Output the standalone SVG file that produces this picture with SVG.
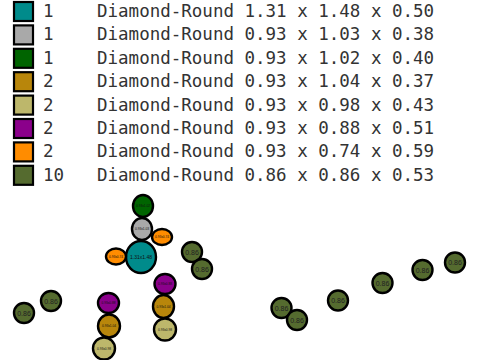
<svg xmlns="http://www.w3.org/2000/svg" width="480" height="360" viewBox="0 0 480 360">
<style>
.lg{stroke:#000;stroke-width:2.2}
.lt{font-family:"DejaVu Sans Mono","Liberation Mono",monospace;font-size:17.5px;fill:#333}
.n{stroke:#000;stroke-width:2.4}
.s{font-family:"Liberation Sans",Arial,sans-serif;font-size:3.2px;fill:#111;text-anchor:middle}
.o{font-family:"Liberation Sans",Arial,sans-serif;font-size:7px;fill:#222;text-anchor:middle}
.teal{fill:#008B8B}.gray{fill:#A9A9A9}.green{fill:#006400}.gold{fill:#B8860B}.khaki{fill:#BDB76B}.purple{fill:#8B008B}.orange{fill:#FF8C00}.olive{fill:#556B2F}
</style>
<rect width="480" height="360" fill="#fff"/>
<g id="legend">
<rect class="lg teal" x="14" y="2" width="19" height="19"/>
<text class="lt" x="43" y="17">1</text><text class="lt" x="97" y="17">Diamond-Round 1.31 x 1.48 x 0.50</text>
<rect class="lg gray" x="14" y="25.4" width="19" height="19"/>
<text class="lt" x="43" y="40.4">1</text><text class="lt" x="97" y="40.4">Diamond-Round 0.93 x 1.03 x 0.38</text>
<rect class="lg green" x="14" y="48.8" width="19" height="19"/>
<text class="lt" x="43" y="63.8">1</text><text class="lt" x="97" y="63.8">Diamond-Round 0.93 x 1.02 x 0.40</text>
<rect class="lg gold" x="14" y="72.2" width="19" height="19"/>
<text class="lt" x="43" y="87.2">2</text><text class="lt" x="97" y="87.2">Diamond-Round 0.93 x 1.04 x 0.37</text>
<rect class="lg khaki" x="14" y="95.6" width="19" height="19"/>
<text class="lt" x="43" y="110.6">2</text><text class="lt" x="97" y="110.6">Diamond-Round 0.93 x 0.98 x 0.43</text>
<rect class="lg purple" x="14" y="119" width="19" height="19"/>
<text class="lt" x="43" y="134">2</text><text class="lt" x="97" y="134">Diamond-Round 0.93 x 0.88 x 0.51</text>
<rect class="lg orange" x="14" y="142.4" width="19" height="19"/>
<text class="lt" x="43" y="157.4">2</text><text class="lt" x="97" y="157.4">Diamond-Round 0.93 x 0.74 x 0.59</text>
<rect class="lg olive" x="14" y="165.8" width="19" height="19"/>
<text class="lt" x="43" y="180.8">10</text><text class="lt" x="97" y="180.8">Diamond-Round 0.86 x 0.86 x 0.53</text>
</g>
<g id="connectors"></g>
<g id="n-green"><ellipse class="n green" cx="143" cy="206" rx="10" ry="11"/><text class="s" x="143" y="207">0.93x1.02</text></g>
<g id="n-gray"><ellipse class="n gray" cx="142" cy="229" rx="10" ry="11"/><text class="s" x="142" y="230">0.93x1.03</text></g>
<g id="n-orange1"><ellipse class="n orange" cx="162" cy="237" rx="10" ry="8"/><text class="s" x="162" y="238">0.93x0.74</text></g>
<g id="n-teal"><ellipse class="n teal" cx="141" cy="257" rx="15" ry="16"/><text class="s" style="font-size:5px" x="141" y="259">1.31x1.48</text></g>
<g id="n-orange2"><ellipse class="n orange" cx="116" cy="256.5" rx="10" ry="8"/><text class="s" x="116" y="257.5">0.93x0.74</text></g>
<g id="n-purple1"><ellipse class="n purple" cx="165" cy="284" rx="10.5" ry="10"/><text class="s" x="165" y="285">0.93x0.88</text></g>
<g id="n-gold1"><ellipse class="n gold" cx="163.5" cy="306.5" rx="10.5" ry="11.5"/><text class="s" x="163.5" y="307.5">0.93x1.04</text></g>
<g id="n-khaki1"><ellipse class="n khaki" cx="165" cy="329.5" rx="11" ry="11"/><text class="s" x="165" y="330.5">0.93x0.98</text></g>
<g id="n-purple2"><ellipse class="n purple" cx="108.5" cy="303" rx="10.5" ry="10"/><text class="s" x="108.5" y="304">0.93x0.88</text></g>
<g id="n-gold2"><ellipse class="n gold" cx="109" cy="326" rx="11" ry="11.5"/><text class="s" x="109" y="327">0.93x1.04</text></g>
<g id="n-khaki2"><ellipse class="n khaki" cx="104" cy="348.5" rx="11" ry="11"/><text class="s" x="104" y="349.5">0.93x0.98</text></g>
<g id="n-olive1"><circle class="n olive" cx="24" cy="313" r="10"/><text class="o" x="24" y="315.5">0.86</text></g>
<g id="n-olive2"><circle class="n olive" cx="51" cy="301" r="10"/><text class="o" x="51" y="303.5">0.86</text></g>
<g id="n-olive3"><circle class="n olive" cx="192" cy="252" r="10"/><text class="o" x="192" y="254.5">0.86</text></g>
<g id="n-olive4"><circle class="n olive" cx="202" cy="269" r="10"/><text class="o" x="202" y="271.5">0.86</text></g>
<g id="n-olive5"><circle class="n olive" cx="281.5" cy="308" r="10"/><text class="o" x="281.5" y="310.5">0.86</text></g>
<g id="n-olive6"><circle class="n olive" cx="297" cy="320" r="10"/><text class="o" x="297" y="322.5">0.86</text></g>
<g id="n-olive7"><circle class="n olive" cx="338" cy="300.5" r="10"/><text class="o" x="338" y="303">0.86</text></g>
<g id="n-olive8"><circle class="n olive" cx="382.5" cy="283" r="10"/><text class="o" x="382.5" y="285.5">0.86</text></g>
<g id="n-olive9"><circle class="n olive" cx="422.5" cy="270" r="10"/><text class="o" x="422.5" y="272.5">0.86</text></g>
<g id="n-olive10"><circle class="n olive" cx="455" cy="262.5" r="10"/><text class="o" x="455" y="265">0.86</text></g>
</svg>
